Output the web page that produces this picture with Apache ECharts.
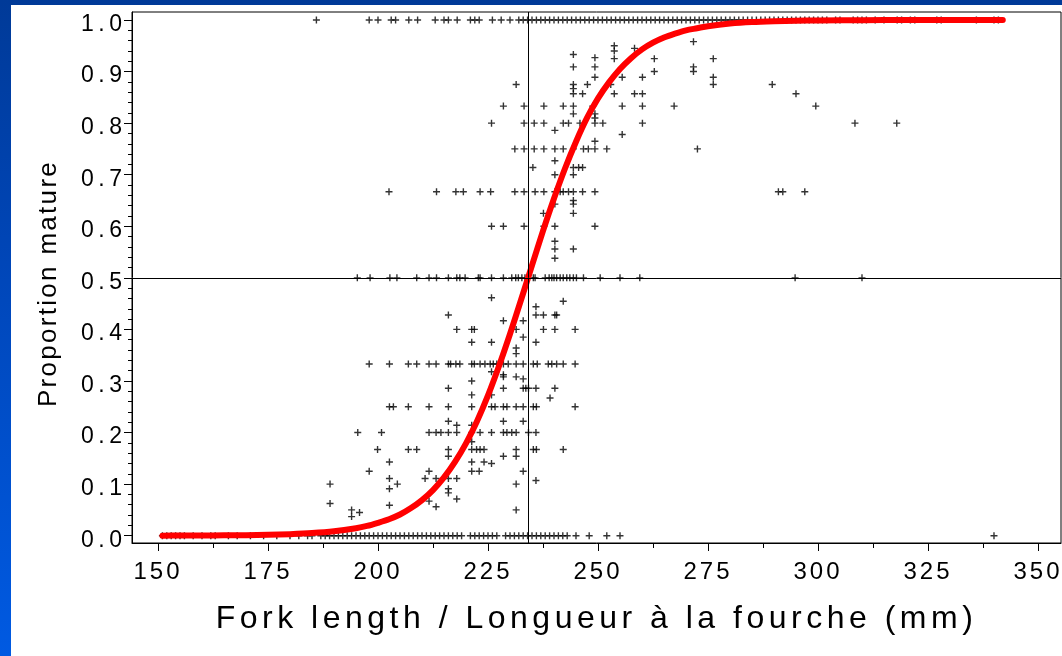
<!DOCTYPE html>
<html>
<head>
<meta charset="utf-8">
<title>Proportion mature vs fork length</title>
<script src="https://cdn.jsdelivr.net/npm/echarts@6/dist/echarts.min.js"></script>
<style>
  html, body { margin: 0; padding: 0; width: 1062px; height: 656px; overflow: hidden;
    background: linear-gradient(to bottom, #003a98 0%, #0046b8 40%, #005ae2 100%); }
  #sheet { position: absolute; left: 11px; top: 5px; right: 0; bottom: 0; background: #fff; }
  #chart { position: absolute; left: 0; top: 0; width: 1062px; height: 656px; }
</style>
</head>
<body>
<div id="sheet"></div>
<div id="chart"></div>
<script>
// ---- data ----------------------------------------------------------------
// Fork lengths (mm) of samples with proportion mature = 0
const lenAt0 = [151,152,153,154,155,156,158,160,162,163,166,168,171,174,177,180,182,184,185,187,188,189,190,191,192,193,194,195,196,197,198,199,200,201,202,203,204,205,206,207,208,209,210,211,212,213,214,215,216,217,218,219,221,222,223,224,225,226,227,229,230,231,232,233,234,235,236,237,238,239,240,241,242,243,245,248,252,255,340];
// Fork lengths (mm) with proportion mature = 1
const lenAt1 = [186,198,200,203,204,207,209,213,215,216,218,221,222,223,226,228,230,232,233,234,235,236,237,238,239,240,241,242,243,244,245,246,247,248,249,250,251,252,253,254,255,256,257,258,259,260,261,262,263,264,265,266,267,268,269,270,271,272,273,274,275,276,277,278,279,280,281,282,283,284,285,286,287,288,289,290,291,292,293,294,295,296,297,298,299,300,301,302,304,305,308,309,310,311,313,315,318,319,321,322,327,328,336,340,341];
// Fork lengths (mm) with proportion mature = 0.5
const lenAtHalf = [195.3,198.2,202.7,204.3,208.8,211.6,213.3,216.0,217.9,218.6,219.8,222.8,223.2,225.8,228.5,230.4,231.3,231.9,232.7,233.4,235.3,235.7,238.0,238.9,239.5,240.0,240.6,241.4,242.1,242.9,243.6,244.4,245.1,246.7,250.5,255.0,259.5,294.8,310.0];
// Other samples: [fork length (mm), proportion mature]
const otherPoints = [
  [216.0,0.428],[217.9,0.4],[221.3,0.4],[221.9,0.4],[221.3,0.375],
  [198.0,0.333],[202.6,0.333],[206.9,0.333],[208.8,0.333],[211.6,0.333],[213.2,0.333],[216.0,0.333],[216.5,0.333],[217.7,0.333],[218.6,0.333],[221.3,0.333],[221.9,0.333],[223.2,0.333],
  [221.3,0.3],[216.0,0.286],[221.3,0.273],
  [202.6,0.25],[203.5,0.25],[206.9,0.25],[211.6,0.25],[216.0,0.25],[221.3,0.25],
  [216.0,0.222],[217.9,0.214],[221.3,0.214],
  [195.4,0.2],[200.8,0.2],[211.6,0.2],[213.2,0.2],[214.3,0.2],[216.0,0.2],[217.9,0.2],[221.3,0.2],[223.2,0.2],
  [221.3,0.182],
  [199.9,0.167],[206.9,0.167],[208.8,0.167],[216.0,0.167],[221.3,0.167],[222.4,0.167],[223.2,0.167],[224.1,0.167],
  [216.0,0.154],[202.6,0.143],[221.3,0.143],
  [198.0,0.125],[211.6,0.125],[221.3,0.125],[223.0,0.125],
  [202.6,0.111],[210.7,0.111],[213.2,0.111],[216.0,0.111],[217.9,0.111],
  [189.1,0.1],[204.4,0.1],[202.6,0.091],[216.0,0.091],[216.0,0.083],
  [217.9,0.071],[211.6,0.067],[189.1,0.0625],[202.6,0.059],[213.2,0.056],[194.0,0.05],[195.8,0.045],[194.0,0.037],
  [225.8,0.4615],[242.1,0.4545],[235.9,0.444],
  [235.9,0.428],[237.6,0.428],[240.2,0.428],[240.6,0.428],
  [228.5,0.4167],[233.0,0.4167],
  [231.4,0.4],[237.6,0.4],[240.2,0.4],[244.8,0.4],
  [233.0,0.385],[225.8,0.375],[235.9,0.375],[231.4,0.364],[231.4,0.353],
  [224.3,0.333],[225.5,0.333],[226.2,0.333],[227.0,0.333],[228.5,0.333],[229.6,0.333],[231.4,0.333],[233.0,0.333],[235.3,0.333],[236.2,0.333],[238.7,0.333],[239.5,0.333],[240.6,0.333],[242.1,0.333],[244.8,0.333],
  [225.8,0.318],[228.5,0.312],[228.5,0.308],[231.4,0.308],[233.0,0.304],
  [228.5,0.286],[233.0,0.286],[233.6,0.286],[234.2,0.286],[235.9,0.286],[240.2,0.286],
  [225.8,0.273],[239.1,0.267],
  [225.8,0.25],[226.6,0.25],[228.5,0.25],[229.3,0.25],[231.4,0.25],[233.0,0.25],[235.3,0.25],[236.0,0.25],[244.8,0.25],
  [228.5,0.222],[233.0,0.222],
  [225.8,0.2],[228.5,0.2],[229.3,0.2],[230.4,0.2],[231.4,0.2],[234.2,0.2],[235.9,0.2],
  [231.4,0.167],[235.3,0.167],[236.0,0.167],[242.1,0.167],
  [228.5,0.154],[231.4,0.154],[224.1,0.143],[225.8,0.14],[233.0,0.125],
  [235.9,0.107],[231.4,0.1],[231.4,0.05],
  [244.4,0.933],[249.3,0.927],[244.4,0.909],[249.3,0.909],[249.3,0.889],[231.4,0.875],
  [244.4,0.875],[244.4,0.867],[244.4,0.857],[246.5,0.857],[247.6,0.875],
  [228.5,0.833],[233.2,0.833],[237.7,0.833],[242.1,0.833],[244.4,0.833],[248.8,0.833],
  [244.4,0.818],[249.3,0.81],
  [225.8,0.8],[233.2,0.8],[235.5,0.8],[237.7,0.8],[242.1,0.8],[243.3,0.8],[245.9,0.8],[249.3,0.8],
  [240.2,0.786],[249.3,0.765],
  [231.1,0.75],[233.2,0.75],[235.5,0.75],[237.7,0.75],[240.2,0.75],[242.1,0.75],[244.4,0.75],[246.7,0.75],[247.8,0.75],[249.3,0.75],
  [240.2,0.727],[235.2,0.714],[244.4,0.714],[245.6,0.714],[246.5,0.714],[240.2,0.7],[244.4,0.7],
  [202.5,0.667],[213.3,0.667],[217.7,0.667],[219.4,0.667],[223.2,0.667],[225.6,0.667],[231.1,0.667],[233.2,0.667],[235.7,0.667],[237.7,0.667],[240.2,0.667],[241.4,0.667],[242.1,0.667],[243.3,0.667],[244.4,0.667],[246.5,0.667],[249.3,0.667],
  [240.2,0.643],[244.4,0.65],[244.4,0.643],[237.6,0.625],[244.4,0.625],
  [225.8,0.6],[228.5,0.6],[233.2,0.6],[237.7,0.6],[240.2,0.6],[249.3,0.6],
  [240.2,0.571],[240.2,0.556],[244.4,0.556],[240.2,0.538],
  [271.7,0.958],[253.7,0.95],[253.7,0.94],[258.3,0.945],
  [253.7,0.925],[262.8,0.925],[276.2,0.925],[271.7,0.909],[271.7,0.9],[262.8,0.9],
  [255.5,0.889],[260.1,0.889],[276.2,0.889],
  [252.9,0.875],[276.2,0.875],[289.6,0.875],
  [253.7,0.857],[258.3,0.857],[260.1,0.857],[295.0,0.857],
  [255.5,0.833],[260.1,0.833],[267.3,0.833],[299.5,0.833],
  [249.3,0.818],[251.1,0.8],[260.1,0.8],[308.4,0.8],[317.9,0.8],
  [255.5,0.778],[252.0,0.75],[272.6,0.75],
  [291.0,0.667],[292.0,0.667],[297.0,0.667]
];
// Fitted maturity ogive
const curveLen  = [151,155,160,165,170,175,180,185,190,195,197.5,200,202.5,205,207.5,210,212.5,215,217.5,220,222.5,225,227.5,230,232.5,235,237.5,240,242.5,245,247.5,250,252.5,255,257.5,260,262.5,265,267.5,270,272.5,275,280,285,290,295,300,310,320,330,342];
const curveProp = [0.0001,0.0002,0.0003,0.0006,0.001,0.0017,0.003,0.005,0.0085,0.0145,0.0189,0.025,0.0319,0.041,0.0535,0.069,0.0884,0.113,0.143,0.179,0.222,0.272,0.329,0.391,0.457,0.524,0.591,0.654,0.712,0.764,0.810,0.848,0.879,0.905,0.926,0.943,0.956,0.966,0.9736,0.980,0.984,0.988,0.993,0.996,0.9976,0.9986,0.9992,0.9997,0.9999,1.0,1.0];
// Length at 50 % maturity
const L50 = 234.1;
// Axis ticks
const xTicks = [150,175,200,225,250,275,300,325,350];
const yTicks = [0,0.1,0.2,0.3,0.4,0.5,0.6,0.7,0.8,0.9,1.0];

// ---- letter-spaced text (canvas letterSpacing, keyed on font size) ----
const SPACING = { 23: 4.5, 24: 3, 26: 2.3, 32: 4.5 };
(function () {
  const proto = CanvasRenderingContext2D.prototype;
  const baseFill = proto.fillText;
  proto.fillText = function (text, x, y, maxW) {
    const m = /(\d+(?:\.\d+)?)px/.exec(this.font);
    const sp = m ? SPACING[Math.round(parseFloat(m[1]))] : 0;
    if (sp && ('letterSpacing' in this)) {
      const prev = this.letterSpacing;
      this.letterSpacing = sp + 'px';
      if (this.textAlign === 'right' || this.textAlign === 'end') x += sp;
      const r = maxW === undefined ? baseFill.call(this, text, x, y) : baseFill.call(this, text, x, y, maxW);
      this.letterSpacing = prev;
      return r;
    }
    return maxW === undefined ? baseFill.call(this, text, x, y) : baseFill.call(this, text, x, y, maxW);
  };
})();

// minor tick positions between the labelled ticks
function between(ticks, parts) {
  const out = [];
  for (let i = 0; i < ticks.length - 1; i++) {
    const step = (ticks[i + 1] - ticks[i]) / parts;
    for (let k = 1; k < parts; k++) out.push(+(ticks[i] + k * step).toFixed(4));
  }
  return out;
}
const xMinor = between(xTicks, 2);
const yMinor = between(yTicks, 5);

const X_MIN = 144.09, X_MAX = 355.23;
const Y_MIN = -0.0142, Y_MAX = 1.0155;
const FONT = "'Liberation Sans', Arial, sans-serif";

const points = []
  .concat(lenAt0.map(x => [x, 0]))
  .concat(lenAt1.map(x => [x, 1]))
  .concat(lenAtHalf.map(x => [x, 0.5]))
  .concat(otherPoints);

const curve = curveLen.map((x, i) => [x, curveProp[i]]);

// "+" marker
const PLUS = 'path://M2.8,0h1.4v7h-1.4z M0,2.8h7v1.4h-7z';

const chart = echarts.init(document.getElementById('chart'), null, { renderer: 'canvas' });
chart.setOption({
  animation: false,
  backgroundColor: 'transparent',
  grid: {
    left: 132, top: 12, width: 929, height: 531,
    show: true, borderColor: '#000', borderWidth: 1, backgroundColor: 'transparent'
  },
  xAxis: [
    {
      type: 'value', min: X_MIN, max: X_MAX, position: 'bottom',
      name: 'Fork length / Longueur à la fourche (mm)',
      nameLocation: 'middle', nameGap: 60,
      nameTextStyle: { fontFamily: FONT, fontSize: 32, color: '#000' },
      axisLine: { onZero: false, lineStyle: { color: '#000', width: 1 } },
      axisTick: { customValues: xTicks, length: 8, lineStyle: { color: '#000' } },
      axisLabel: { customValues: xTicks, margin: 17, fontFamily: FONT, fontSize: 24, color: '#000',
                   formatter: v => String(Math.round(v)) },
      splitLine: { show: false }
    },
    {
      type: 'value', min: X_MIN, max: X_MAX, position: 'bottom',
      axisLine: { show: false, onZero: false },
      axisTick: { customValues: xMinor, length: 5, lineStyle: { color: '#000' } },
      axisLabel: { show: false },
      splitLine: { show: false }
    }
  ],
  yAxis: [
    {
      type: 'value', min: Y_MIN, max: Y_MAX, position: 'left',
      name: 'Proportion mature',
      nameLocation: 'middle', nameGap: 70, nameRotate: 90,
      nameTextStyle: { fontFamily: FONT, fontSize: 26, color: '#000', padding: [0, 12, 0, 0] },
      axisLine: { show: true, onZero: false, lineStyle: { color: '#000', width: 1 } },
      axisTick: { show: true, customValues: yTicks, length: 8, lineStyle: { color: '#000' } },
      axisLabel: {
        customValues: yTicks, margin: 10,
        formatter: v => '{t|' + v.toFixed(1) + '}',
        rich: { t: { fontFamily: FONT, fontSize: 23, color: '#000', padding: [9, 0, 0, 0] } }
      },
      splitLine: { show: false }
    },
    {
      type: 'value', min: Y_MIN, max: Y_MAX, position: 'left',
      axisLine: { show: false, onZero: false },
      axisTick: { show: true, customValues: yMinor, length: 4, lineStyle: { color: '#000' } },
      axisLabel: { show: false },
      splitLine: { show: false }
    }
  ],
  series: [
    {
      type: 'scatter',
      xAxisIndex: 0, yAxisIndex: 0,
      data: points,
      symbol: PLUS,
      symbolSize: 7,
      itemStyle: { color: '#000' },
      emphasis: { disabled: true },
      silent: true,
      z: 2,
      markLine: {
        silent: true,
        symbol: 'none',
        label: { show: false },
        lineStyle: { color: '#000', width: 1, type: 'solid' },
        emphasis: { disabled: true },
        animation: false,
        data: [{ xAxis: L50 }, { yAxis: 0.5 }]
      }
    },
    {
      type: 'line',
      xAxisIndex: 0, yAxisIndex: 0,
      data: curve,
      smooth: 0.3,
      showSymbol: false,
      symbol: 'none',
      lineStyle: { color: '#ff0000', width: 6, cap: 'round', join: 'round' },
      emphasis: { disabled: true },
      silent: true,
      z: 3
    }
  ]
});
</script>
</body>
</html>
